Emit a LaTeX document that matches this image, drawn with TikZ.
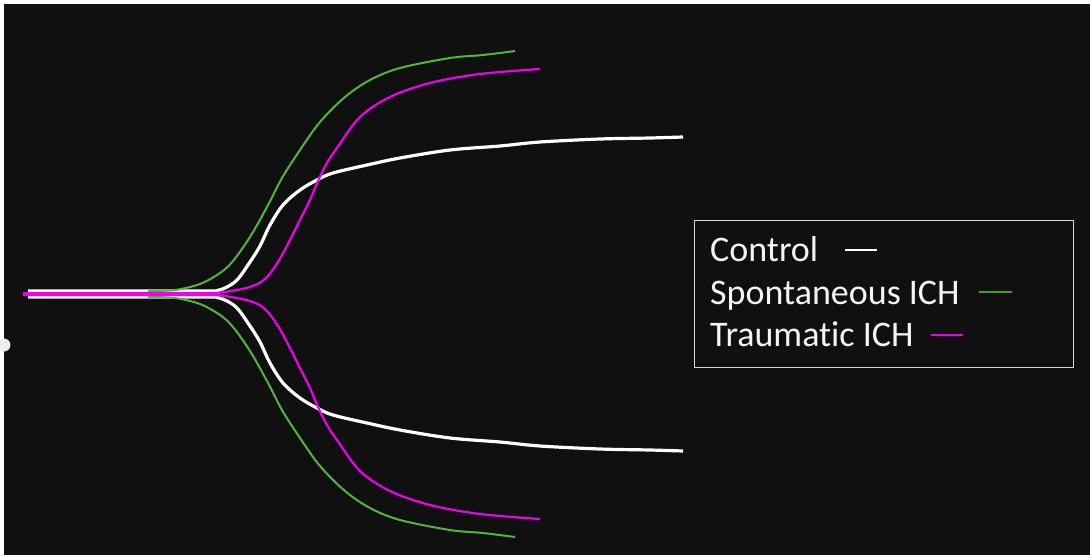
\documentclass[tikz,border=0pt]{standalone}
\usepackage{fontspec}
\setmainfont{Carlito}[Ligatures=NoCommon]
\definecolor{bgdark}{HTML}{101010}
\definecolor{cgreen}{HTML}{52B53C}
\definecolor{cmag}{HTML}{F000F0}
\definecolor{legtext}{HTML}{F4F4F4}
\definecolor{boxline}{HTML}{D9D9D9}
\tikzset{
  ctrlcurve/.style={draw=white, line width=3.2pt, line join=round},
  spontcurve/.style={draw=cgreen, line width=2pt, line join=round},
  traumcurve/.style={draw=cmag, line width=2.2pt, line join=round},
  legendbox/.style={draw=boxline, line width=1.3pt},
  legendlabel/.style={anchor=base west, inner sep=0pt, text=legtext, font=\fontsize{36}{42}\selectfont},
}
\begin{document}
\begin{tikzpicture}[x=1pt,y=-1pt]
\useasboundingbox (0,0) rectangle (1090,555);
\fill[white] (0,0) rectangle (1090,555);
\fill[bgdark] (4,4) rectangle (1090,555);
\fill[white!85!gray] (4,345) circle (6.5);
% control (white) curves
\draw[ctrlcurve] (28,291) -- (215,291) -- plot[smooth, tension=0.55] coordinates {(215,291) (225,288) (237,280) (250,262) (260,246) (270,225) (283,205) (300,190) (317,180) (333,173) (367,165) (400,158) (450,150) (500,146) (540,142) (600,139) (650,138) (683,137)};
\draw[ctrlcurve] (28,297) -- (215,297) -- plot[smooth, tension=0.55] coordinates {(215,297) (225,300) (237,308) (250,326) (260,342) (270,363) (283,383) (300,398) (317,408) (333,415) (367,423) (400,430) (450,438) (500,442) (540,446) (600,449) (650,450) (683,451)};
% spontaneous ICH (green) curves
\draw[spontcurve] (148,291) -- plot[smooth, tension=0.55] coordinates {(148,291) (175,290) (200,284) (220,273) (233,261) (250,237) (267,207) (282,178) (300,150) (320,122) (345,97) (370,80) (400,68) (450,58) (483,55) (515,51)};
\draw[spontcurve] (148,297) -- plot[smooth, tension=0.55] coordinates {(148,297) (175,298) (200,304) (220,315) (233,327) (250,351) (267,381) (282,410) (300,438) (320,466) (345,491) (370,508) (400,520) (450,530) (483,533) (515,537)};
% traumatic ICH (magenta) curves
\draw[traumcurve] (23,293) -- (215,293) -- plot[smooth, tension=0.55] coordinates {(215,293) (225,292) (250,287) (265,279) (278,262) (290,240) (300,220) (310,200) (318,181) (327,163) (337,148) (360,117) (390,97) (430,83) (480,74) (540,69)};
\draw[traumcurve] (23,295) -- (215,295) -- plot[smooth, tension=0.55] coordinates {(215,295) (225,296) (250,301) (265,309) (278,326) (290,348) (300,368) (310,388) (318,407) (327,425) (337,440) (360,471) (390,491) (430,505) (480,514) (540,519)};
% legend
\node[legendbox, minimum width=379pt, minimum height=147pt, anchor=north west, inner sep=0pt] (legend) at (694,220) {};
\node[legendlabel] (lcontrol) at (710,261) {Control};
\node[legendlabel] (lspont) at (710,304) {Spontaneous ICH};
\node[legendlabel] (ltraum) at (710,346) {Traumatic ICH};
\coordinate (kc1) at (845,250); \coordinate (kc2) at (877,250);
\coordinate (ks1) at (979,292); \coordinate (ks2) at (1012,292);
\coordinate (kt1) at (931,335); \coordinate (kt2) at (963,335);
\draw[white, line width=2.4pt] (kc1) -- (kc2);
\draw[cgreen!85!black, line width=2.2pt] (ks1) -- (ks2);
\draw[cmag, line width=2.2pt] (kt1) -- (kt2);
\end{tikzpicture}
\end{document}
